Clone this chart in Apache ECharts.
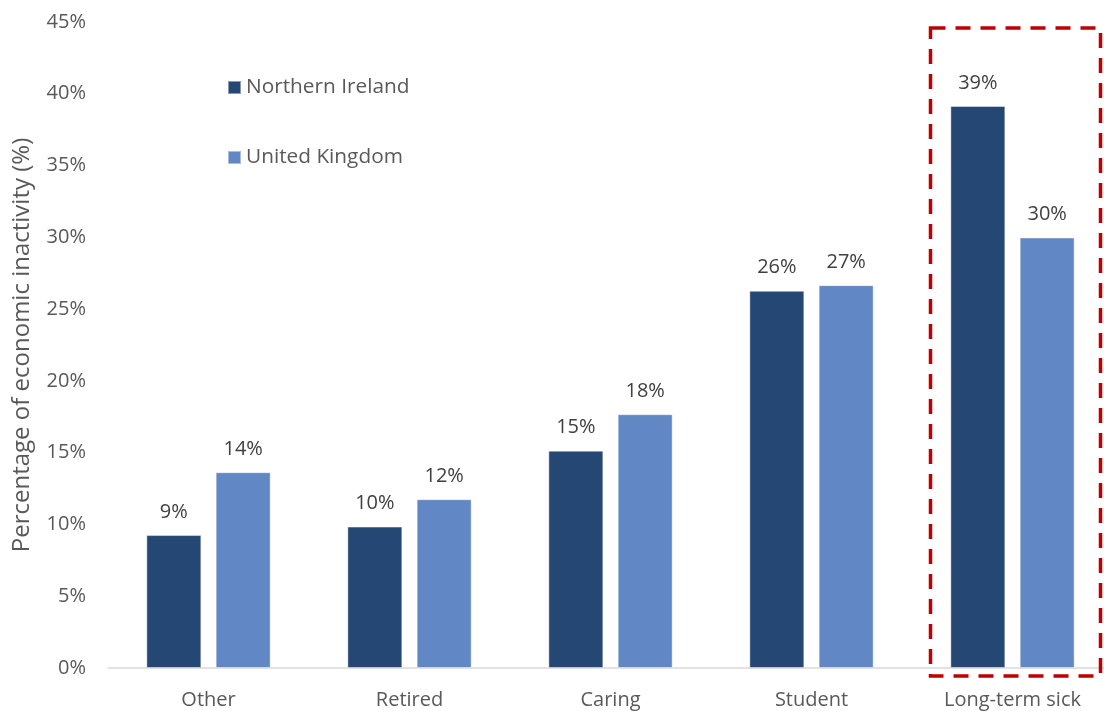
<!DOCTYPE html>
<html>
<head>
<meta charset="utf-8">
<script src="https://cdn.jsdelivr.net/npm/echarts@6/dist/echarts.min.js"></script>
<style>
  html, body { margin: 0; padding: 0; background: #ffffff; }
  #chart { width: 1104px; height: 711px; }
</style>
</head>
<body>
<div id="chart"></div>
<script>
// Reasons for economic inactivity, share of the inactive population (%)
const categories = ['Other', 'Retired', 'Caring', 'Student', 'Long-term sick'];
const northernIreland = [9.26, 9.85, 15.14, 26.28, 39.15];
const unitedKingdom = [13.64, 11.76, 17.68, 26.67, 29.99];
const seriesNames = ['Northern Ireland', 'United Kingdom'];
const yTicks = { min: 0, max: 45, interval: 5 };
const highlightCategory = 'Long-term sick';

const FONT = '"Open Sans", "Noto Sans", sans-serif';
const TEXT = '#595959';

const chart = echarts.init(document.getElementById('chart'), null, { renderer: 'canvas' });

const barLabel = {
  show: true,
  position: 'top',
  distance: 13,
  color: '#404040',
  fontFamily: FONT,
  fontSize: 20,
  formatter: p => Math.round(p.value) + '%'
};

chart.setOption({
  animation: false,
  backgroundColor: '#ffffff',
  textStyle: { fontFamily: FONT },
  grid: { left: 108, top: 22, width: 1005, bottom: 43, outerBoundsMode: 'none', containLabel: false },
  legend: {
    orient: 'vertical',
    left: 227,
    top: 77,
    padding: 0,
    itemGap: 49,
    itemWidth: 13,
    itemHeight: 13,
    icon: 'rect',
    textStyle: { color: TEXT, fontSize: 20.8, fontFamily: FONT },
    data: seriesNames
  },
  xAxis: {
    type: 'category',
    data: categories,
    axisLine: { lineStyle: { color: '#d9d9d9', width: 1.5 } },
    axisTick: { show: false },
    axisLabel: { color: TEXT, fontSize: 20, fontFamily: FONT, margin: 22 }
  },
  yAxis: {
    type: 'value',
    min: yTicks.min,
    max: yTicks.max,
    interval: yTicks.interval,
    name: 'Percentage of economic inactivity (%)',
    nameLocation: 'middle',
    nameGap: 74,
    nameTextStyle: { color: TEXT, fontSize: 24, fontFamily: FONT },
    splitLine: { show: false },
    axisLine: { show: false },
    axisTick: { show: false },
    axisLabel: { color: TEXT, fontSize: 20, fontFamily: FONT, margin: 22, formatter: v => v + '%' }
  },
  series: [
    {
      name: seriesNames[0],
      type: 'bar',
      data: northernIreland,
      barWidth: 55,
      barGap: '26%',
      itemStyle: { color: '#244873', borderColor: 'rgba(255,255,255,0.45)', borderWidth: 1 },
      label: barLabel
    },
    {
      name: seriesNames[1],
      type: 'bar',
      data: unitedKingdom,
      barWidth: 55,
      barGap: '26%',
      itemStyle: { color: '#6187c4', borderColor: 'rgba(255,255,255,0.45)', borderWidth: 1 },
      label: barLabel
    }
  ]
});

// Dashed highlight box around the emphasised category, placed from the axis scales
const centre = chart.convertToPixel({ xAxisIndex: 0 }, highlightCategory);
const topY = chart.convertToPixel({ yAxisIndex: 0 }, yTicks.max);
const zeroY = chart.convertToPixel({ yAxisIndex: 0 }, 0);
chart.setOption({
  graphic: [{
    type: 'rect',
    shape: { x: centre - 82, y: topY + 6, width: 170, height: zeroY - topY + 2 },
    style: { fill: 'none', stroke: '#c00000', lineWidth: 3.5, lineDash: [15, 10] },
    z: 10
  }]
});
</script>
</body>
</html>
